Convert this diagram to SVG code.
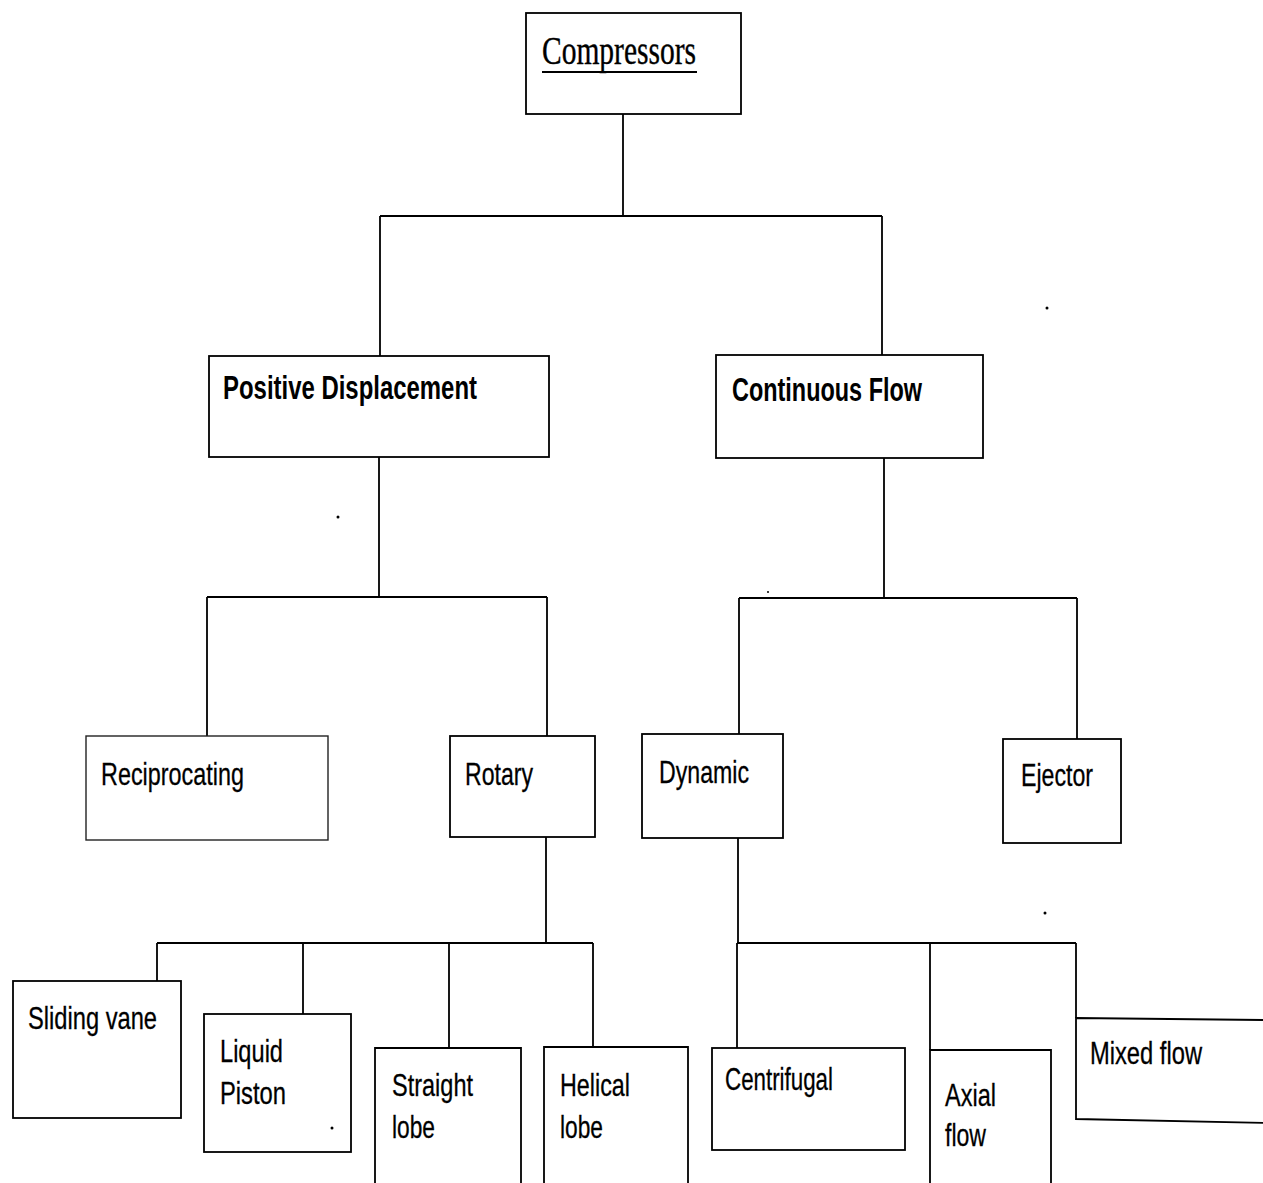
<svg xmlns="http://www.w3.org/2000/svg" width="1263" height="1183" viewBox="0 0 1263 1183">
<style>
.box{fill:#fff;stroke:#000;stroke-width:1.8}
.open{fill:none;stroke:#000;stroke-width:1.8}
.faint{fill:#fff;stroke:#222;stroke-width:1.4}
.ln{fill:none;stroke:#000;stroke-width:1.8}
.t{font-family:"Liberation Sans",Arial,sans-serif;font-size:32px;fill:#000;stroke:#000;stroke-width:0.3}
.b{font-family:"Liberation Sans",Arial,sans-serif;font-size:33px;font-weight:bold;fill:#000}
.s{font-family:"Liberation Serif","Times New Roman",serif;font-size:41px;fill:#000;stroke:#000;stroke-width:0.4}
</style>
<rect width="1263" height="1183" fill="#fff"/>
<g id="connectors">
<path class="ln" d="M623 112V216M380 216H882M380 216V356M882 216V355"/>
<path class="ln" d="M379 457V597M207 597H547M207 597V736M547 597V736"/>
<path class="ln" d="M884 458V598M739 598H1077M739 598V734M1077 598V739"/>
<path class="ln" d="M546 837V943M157 943H593M157 943V981M303 943V1014M449 943V1048M593 943V1047"/>
<path class="ln" d="M738 838V943M737 943H1076M737 943V1048M930 943V1050M1076 943V1018"/>
</g>
<g id="compressors">
<rect class="box" x="526" y="13" width="215" height="101"/>
<text class="s" x="542" y="64" textLength="154" lengthAdjust="spacingAndGlyphs">Compressors</text>
<line x1="542" y1="72" x2="697" y2="72" stroke="#000" stroke-width="2.2"/>
</g>
<g id="positive-displacement">
<rect class="box" x="209" y="356" width="340" height="101"/>
<text class="b" x="223" y="399" textLength="254" lengthAdjust="spacingAndGlyphs">Positive Displacement</text>
</g>
<g id="continuous-flow">
<rect class="box" x="716" y="355" width="267" height="103"/>
<text class="b" x="732" y="401" textLength="190" lengthAdjust="spacingAndGlyphs">Continuous Flow</text>
</g>
<g id="reciprocating">
<rect class="faint" x="86" y="736" width="242" height="104"/>
<text class="t" x="101" y="785" textLength="143" lengthAdjust="spacingAndGlyphs">Reciprocating</text>
</g>
<g id="rotary">
<rect class="box" x="450" y="736" width="145" height="101"/>
<text class="t" x="465" y="785" textLength="68" lengthAdjust="spacingAndGlyphs">Rotary</text>
</g>
<g id="dynamic">
<rect class="box" x="642" y="734" width="141" height="104"/>
<text class="t" x="659" y="783" textLength="90" lengthAdjust="spacingAndGlyphs">Dynamic</text>
</g>
<g id="ejector">
<rect class="box" x="1003" y="739" width="118" height="104"/>
<text class="t" x="1021" y="786" textLength="72" lengthAdjust="spacingAndGlyphs">Ejector</text>
</g>
<g id="sliding-vane">
<rect class="box" x="13" y="981" width="168" height="137"/>
<text class="t" x="28" y="1029" textLength="129" lengthAdjust="spacingAndGlyphs">Sliding vane</text>
</g>
<g id="liquid-piston">
<rect class="box" x="204" y="1014" width="147" height="138"/>
<text class="t" x="220" y="1062" textLength="63" lengthAdjust="spacingAndGlyphs">Liquid</text>
<text class="t" x="220" y="1104" textLength="66" lengthAdjust="spacingAndGlyphs">Piston</text>
</g>
<g id="straight-lobe">
<path class="open" d="M375 1185V1048H521V1185"/>
<text class="t" x="392" y="1096" textLength="81" lengthAdjust="spacingAndGlyphs">Straight</text>
<text class="t" x="392" y="1138" textLength="43" lengthAdjust="spacingAndGlyphs">lobe</text>
</g>
<g id="helical-lobe">
<path class="open" d="M544 1185V1047H688V1185"/>
<text class="t" x="560" y="1096" textLength="70" lengthAdjust="spacingAndGlyphs">Helical</text>
<text class="t" x="560" y="1138" textLength="43" lengthAdjust="spacingAndGlyphs">lobe</text>
</g>
<g id="centrifugal">
<rect class="box" x="712" y="1048" width="193" height="102"/>
<text class="t" x="725" y="1090" textLength="108" lengthAdjust="spacingAndGlyphs">Centrifugal</text>
</g>
<g id="axial-flow">
<path class="open" d="M930 1185V1050H1051V1185"/>
<text class="t" x="945" y="1106" textLength="51" lengthAdjust="spacingAndGlyphs">Axial</text>
<text class="t" x="945" y="1146" textLength="41" lengthAdjust="spacingAndGlyphs">flow</text>
</g>
<g id="mixed-flow">
<path class="open" d="M1265 1020L1076 1018V1119L1265 1123"/>
<text class="t" x="1090" y="1064" textLength="112" lengthAdjust="spacingAndGlyphs">Mixed flow</text>
</g>
<g id="specks" fill="#000">
<circle cx="1047" cy="308" r="1.5"/>
<circle cx="338" cy="517" r="1.5"/>
<circle cx="768" cy="592" r="1"/>
<circle cx="1045" cy="913" r="1.5"/>
<circle cx="332" cy="1128" r="1.5"/>
</g>
</svg>
